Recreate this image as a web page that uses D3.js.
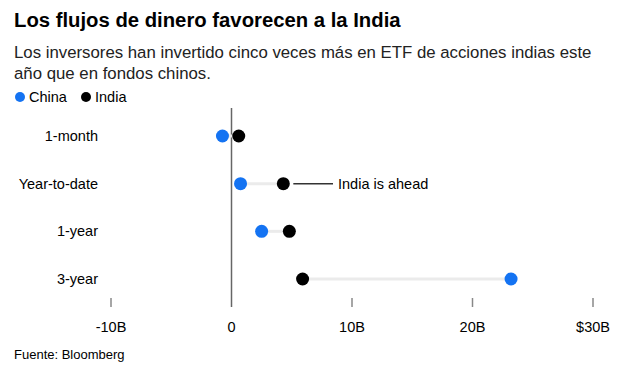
<!DOCTYPE html>
<html>
<head>
<meta charset="utf-8">
<script src="https://cdn.jsdelivr.net/npm/d3@7"></script>
<style>
  body { margin: 0; background: #fff; }
  text { font-family: "Liberation Sans", Arial, Helvetica, sans-serif; }
</style>
</head>
<body>
<svg width="634" height="384"></svg>
<script>
var categories = ["1-month", "Year-to-date", "1-year", "3-year"];
var china = [-0.75, 0.75, 2.5, 23.2];
var india = [0.6, 4.3, 4.8, 5.9];
var tickValues = [-10, 0, 10, 20, 30];
var tickLabels = ["-10B", "0", "10B", "20B", "$30B"];

var svg = d3.select("svg");
var blue = "#1473f2", black = "#000";

var x = d3.scaleLinear().domain([-10, 30]).range([111, 593]);
var y = d3.scalePoint().domain(categories).range([136, 279]);

// title block
svg.append("text").attr("x", 14).attr("y", 27)
  .style("font-size", "20.3px").style("font-weight", "bold")
  .text("Los flujos de dinero favorecen a la India");
svg.append("text").attr("x", 14).attr("y", 58)
  .style("font-size", "16.8px").style("fill", "#222")
  .text("Los inversores han invertido cinco veces más en ETF de acciones indias este");
svg.append("text").attr("x", 14).attr("y", 79)
  .style("font-size", "16.8px").style("fill", "#222")
  .text("año que en fondos chinos.");

// legend
var legend = [{ name: "China", color: blue, x: 20 }, { name: "India", color: black, x: 86 }];
svg.selectAll(".leg").data(legend).enter().append("circle")
  .attr("cx", function (d) { return d.x; }).attr("cy", 97).attr("r", 5)
  .style("fill", function (d) { return d.color; });
svg.selectAll(".legt").data(legend).enter().append("text")
  .attr("x", function (d) { return d.x + 9; }).attr("y", 102)
  .style("font-size", "14.5px")
  .text(function (d) { return d.name; });

// ticks
svg.append("g").selectAll("line").data(tickValues.filter(function (d) { return d !== 0; }))
  .enter().append("line")
  .attr("x1", function (d) { return x(d); }).attr("x2", function (d) { return x(d); })
  .attr("y1", 298).attr("y2", 307)
  .style("stroke", "#888").style("stroke-width", 1.5);
svg.append("g").selectAll("text").data(tickValues).enter().append("text")
  .attr("x", function (d) { return x(d); }).attr("y", 332)
  .attr("text-anchor", "middle").style("font-size", "14.5px")
  .text(function (d, i) { return tickLabels[i]; });

// zero line
svg.append("line").attr("x1", x(0)).attr("x2", x(0)).attr("y1", 108).attr("y2", 307)
  .style("stroke", "#666").style("stroke-width", 1.5);

// category labels
svg.append("g").selectAll("text").data(categories).enter().append("text")
  .attr("x", 98).attr("y", function (d) { return y(d) + 5; })
  .attr("text-anchor", "end").style("font-size", "14.5px")
  .text(function (d) { return d; });

// connectors
svg.append("g").selectAll("line").data(categories).enter().append("line")
  .attr("x1", function (d, i) { return x(china[i]); })
  .attr("x2", function (d, i) { return x(india[i]); })
  .attr("y1", function (d) { return y(d); }).attr("y2", function (d) { return y(d); })
  .style("stroke", "#ebebeb").style("stroke-width", 3);

// annotation
var ay = y("Year-to-date");
svg.append("line").attr("x1", x(india[1]) + 10).attr("x2", 333)
  .attr("y1", ay).attr("y2", ay).style("stroke", "#333").style("stroke-width", 1.5);
svg.append("text").attr("x", 338).attr("y", ay + 5).style("font-size", "14.5px")
  .text("India is ahead");

// dots
svg.append("g").selectAll("circle").data(categories).enter().append("circle")
  .attr("cx", function (d, i) { return x(china[i]); }).attr("cy", function (d) { return y(d); })
  .attr("r", 6.5).style("fill", blue);
svg.append("g").selectAll("circle").data(categories).enter().append("circle")
  .attr("cx", function (d, i) { return x(india[i]); }).attr("cy", function (d) { return y(d); })
  .attr("r", 6.5).style("fill", black);

// source
svg.append("text").attr("x", 14).attr("y", 359).style("font-size", "13px")
  .text("Fuente: Bloomberg");
</script>
</body>
</html>
